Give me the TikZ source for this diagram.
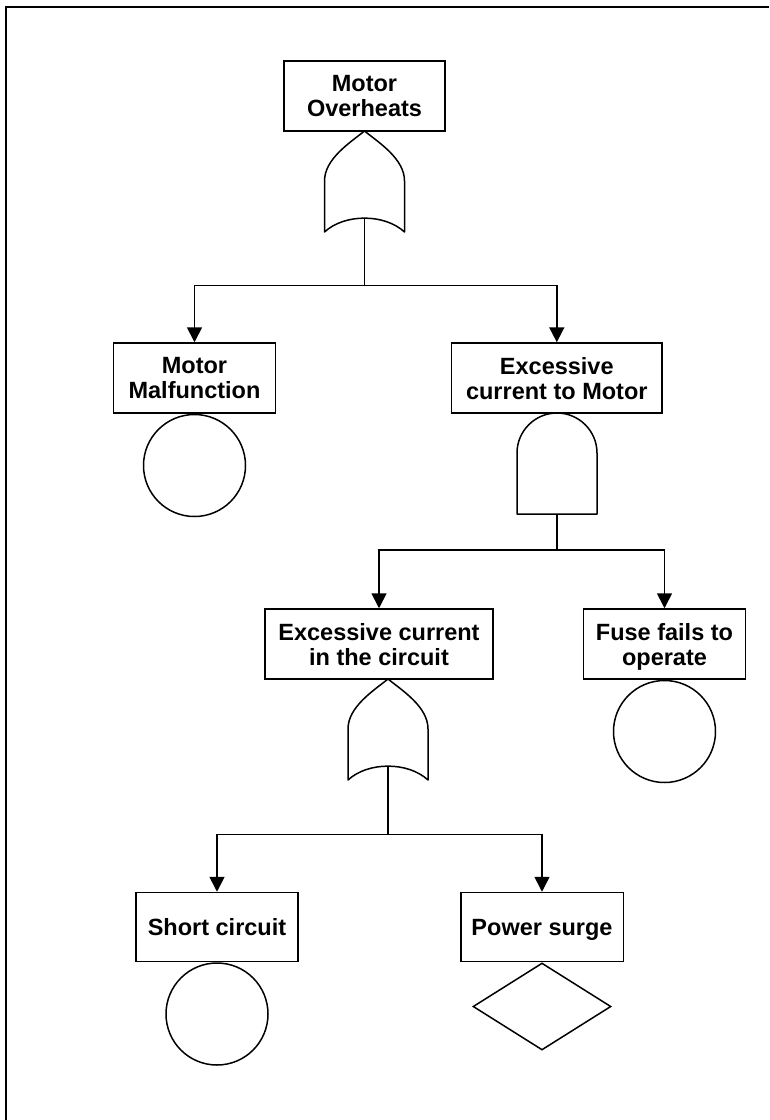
\documentclass[tikz,border=0pt]{standalone}
\usepackage{fontspec}
\setmainfont{Liberation Sans}
\usetikzlibrary{arrows.meta,shapes.geometric}

\begin{document}
\begin{tikzpicture}[x=1pt,y=-1pt,
  every node/.style={font=\bfseries\fontsize{23.5}{25}\selectfont},
  box/.style={draw,line width=1.5pt,fill=white,align=center,inner sep=0pt,
    minimum height=70pt,text depth=0pt},
  basic/.style={draw,line width=1.5pt,circle,minimum size=102pt,inner sep=0pt,anchor=north},
  undev/.style={draw,line width=1.5pt,diamond,minimum width=138pt,minimum height=87pt,
    inner sep=0pt,anchor=north},
  arr/.style={line width=1.7pt,-{Triangle[length=15pt,width=15pt]}},
  link/.style={line width=1.7pt},
  orgate/.pic={
    \draw[line width=1.5pt,line join=round]
      (0,0) .. controls (15,12) and (40,28) .. (40,50) -- (40,101)
      .. controls (20,82.5) and (-20,82.5) .. (-40,101) -- (-40,50)
      .. controls (-40,28) and (-15,12) .. cycle;
    \coordinate (-out) at (0,87);
  },
  andgate/.pic={
    \draw[line width=1.5pt,line join=round]
      (-40,101) -- (-40,40) .. controls (-40,18) and (-22,0) .. (0,0)
      .. controls (22,0) and (40,18) .. (40,40) -- (40,101) -- cycle;
    \coordinate (-out) at (0,101);
  }]
\useasboundingbox (0,0) rectangle (769,1120);

% frame
\draw[line width=2pt] (5.5,1120) -- (5.5,6.5) -- (769,6.5);

% events
\node[box,minimum width=161pt] (top) at (364.5,96) {Motor\\Overheats};
\node[box,minimum width=162pt] (mm) at (194.5,378) {Motor\\Malfunction};
\node[box,minimum width=210.5pt] (ectm) at (556.8,378) {Excessive\\current to Motor};
\node[box,minimum width=228pt] (ecc) at (379,644) {Excessive current\\in the circuit};
\node[box,minimum width=162pt] (fuse) at (664.5,644) {Fuse fails to\\operate};
\node[box,minimum width=162pt,minimum height=69pt] (sc) at (217,927) {Short circuit};
\node[box,minimum width=162.5pt,minimum height=69pt] (ps) at (542,927) {Power surge};

% basic and undeveloped events
\node[basic] (mmb) at (mm.south) {};
\node[basic] (fuseb) at (fuse.south) {};
\node[basic] (scb) at (sc.south) {};
\node[undev] (psu) at (ps.south) {};

% gates
\pic (g1) at (364.5,131) {orgate};
\pic (g2) at (557,413) {andgate};
\pic (g3) at (388,679) {orgate};

% junctions
\coordinate (j1) at (364.5,285.5);
\coordinate (j2) at (557,550);
\coordinate (j3) at (388,834.5);

% connectors
\draw[link] (g1-out) -- (j1);
\draw[arr] (j1) -| (mm.north);
\draw[arr] (j1) -| (ectm.north);
\draw[link] (g2-out) -- (j2);
\draw[arr] (j2) -| (ecc.north);
\draw[arr] (j2) -| (fuse.north);
\draw[link] (g3-out) -- (j3);
\draw[arr] (j3) -| (sc.north);
\draw[arr] (j3) -| (ps.north);
\end{tikzpicture}
\end{document}
